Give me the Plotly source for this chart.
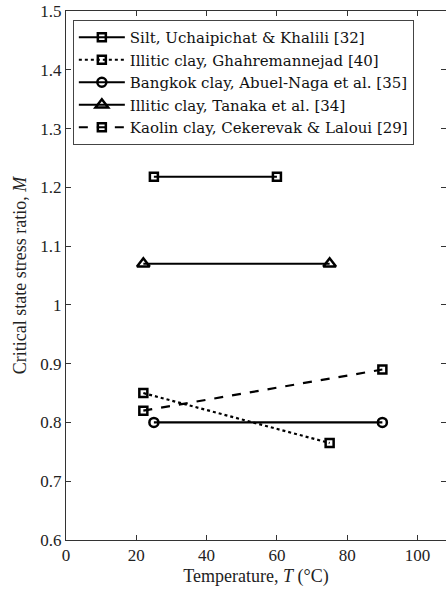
import plotly.graph_objects as go

names = ["Silt, Uchaipichat & Khalili [32]",
         "Illitic clay, Ghahremannejad [40]",
         "Bangkok clay, Abuel-Naga et al. [35]",
         "Illitic clay, Tanaka et al. [34]",
         "Kaolin clay, Cekerevak & Laloui [29]"]
temps = [[25, 60], [22, 75], [25, 90], [22, 75], [22, 90]]
M_vals = [[1.218, 1.218], [0.85, 0.765], [0.80, 0.80], [1.07, 1.07], [0.82, 0.89]]
dashes = ["solid", "dot", "solid", "solid", "dash"]
symbols = ["square-open", "square-open", "circle-open", "triangle-up-open", "square-open"]
msizes = [8, 8, 9, 11, 8]

fig = go.Figure()
for n, t, m, d, s, ms in zip(names, temps, M_vals, dashes, symbols, msizes):
    fig.add_trace(go.Scatter(
        x=t, y=m, name=n, mode="lines+markers",
        line=dict(color="black", width=2.2, dash=d),
        marker=dict(symbol=s, size=ms, color="black", line=dict(color="black", width=2.5)),
    ))

font = "Liberation Serif"
fig.update_layout(
    width=446, height=594,
    margin=dict(l=66, r=0, t=11, b=54),
    paper_bgcolor="white", plot_bgcolor="white",
    font=dict(family=font, size=17, color="#222"),
    showlegend=True,
    legend=dict(x=0.018, y=0.983, xanchor="left", yanchor="top",
                bordercolor="#444", borderwidth=1, bgcolor="white",
                font=dict(family="DejaVu Serif", size=15, color="#111"),
                itemwidth=46, tracegroupgap=0),
    xaxis=dict(range=[0, 108.1], tickvals=[0, 20, 40, 60, 80, 100],
               ticks="inside", ticklen=5, tickcolor="#333",
               showline=True, linecolor="#333", linewidth=1, mirror="ticks",
               showgrid=False, zeroline=False,
               title=dict(text="Temperature, <i>T</i> (°C)", font=dict(size=18), standoff=4)),
    yaxis=dict(range=[0.6, 1.5], tickvals=[0.6, 0.7, 0.8, 0.9, 1.0, 1.1, 1.2, 1.3, 1.4, 1.5],
               ticktext=["0.6", "0.7", "0.8", "0.9", "1", "1.1", "1.2", "1.3", "1.4", "1.5"],
               ticks="inside", ticklen=5, tickcolor="#333",
               showline=True, linecolor="#333", linewidth=1, mirror="ticks",
               showgrid=False, zeroline=False,
               title=dict(text="Critical state stress ratio, <i>M</i>", font=dict(size=18), standoff=9)),
)
fig.write_html("out.html")
